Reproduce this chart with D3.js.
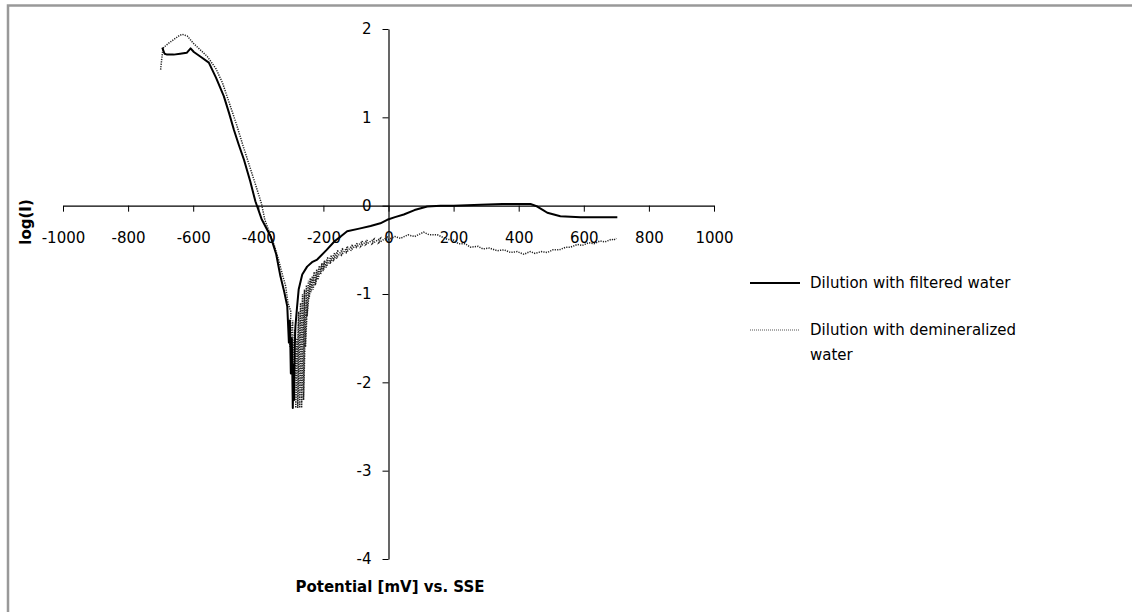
<!DOCTYPE html>
<html>
<head>
<meta charset="utf-8">
<script src="https://cdn.jsdelivr.net/npm/d3@7"></script>
<style>
  body { margin: 0; background: #fff; }
  svg { display: block; }
  text { font-family: "DejaVu Sans", sans-serif; }
</style>
</head>
<body>
<svg width="1132" height="612"></svg>
<script>
// log(I) vs potential, two dilution runs

var svg = d3.select("svg"),
    width = +svg.attr("width"),
    height = +svg.attr("height");

////////////////////////////// DATA //////////////////////////////

var seriesNames = ["Dilution with filtered water", "Dilution with demineralized water"];

var xTicks = [-1000, -800, -600, -400, -200, 0, 200, 400, 600, 800, 1000];
var yTicks = [-4, -3, -2, -1, 0, 1, 2];

// [potential mV, log(I)]
var filtered = [
  [-695, 1.79], [-688, 1.72], [-680, 1.71], [-660, 1.71], [-640, 1.72], [-620, 1.73],
  [-608, 1.78], [-598, 1.74], [-575, 1.68], [-552, 1.62], [-530, 1.45], [-506, 1.24],
  [-490, 1.05], [-475, 0.86], [-460, 0.69], [-444, 0.52], [-425, 0.28], [-409, 0.05],
  [-390, -0.15], [-362, -0.35], [-345, -0.55], [-332, -0.80], [-320, -0.98], [-311, -1.14],
  [-306, -1.55], [-303, -1.30], [-300, -1.90], [-297, -1.50], [-294, -2.29], [-292, -1.80],
  [-290, -2.20], [-288, -1.60], [-286, -1.37], [-281, -1.15], [-276, -0.95], [-265, -0.78],
  [-250, -0.69], [-235, -0.64], [-219, -0.61], [-190, -0.50], [-165, -0.40], [-147, -0.35],
  [-127, -0.29], [-90, -0.26], [-55, -0.23], [-25, -0.20], [-4, -0.16], [20, -0.13],
  [47, -0.10], [80, -0.05], [119, -0.01], [160, 0.00], [200, 0.00], [283, 0.01],
  [350, 0.02], [400, 0.02], [436, 0.02], [457, -0.01], [475, -0.05], [488, -0.08],
  [528, -0.12], [590, -0.13], [650, -0.13], [703, -0.13]
];

var demineralized = [
  [-700, 1.54], [-697, 1.65], [-693, 1.78], [-688, 1.80], [-675, 1.84], [-660, 1.88],
  [-645, 1.92], [-634, 1.94], [-618, 1.92], [-600, 1.84], [-580, 1.77], [-557, 1.69],
  [-530, 1.55], [-510, 1.39], [-488, 1.15], [-467, 0.92], [-447, 0.68], [-427, 0.45],
  [-407, 0.22], [-390, 0.02], [-380, -0.16], [-362, -0.34], [-350, -0.46], [-338, -0.61],
  [-326, -0.78], [-316, -0.91], [-309, -1.10], [-300, -1.20], [-303, -1.60], [-294, -1.30],
  [-297, -1.90], [-288, -1.40], [-291, -2.10], [-282, -1.50], [-285, -2.29], [-276, -1.20],
  [-279, -2.29], [-270, -1.10], [-273, -2.29], [-264, -1.00], [-267, -2.29], [-258, -0.95],
  [-261, -2.20], [-252, -0.90], [-255, -1.60], [-246, -0.85], [-250, -1.25], [-240, -0.82],
  [-244, -1.05], [-234, -0.80], [-238, -0.98], [-228, -0.75], [-232, -0.95], [-220, -0.72],
  [-225, -0.90], [-212, -0.68], [-217, -0.84], [-204, -0.65], [-209, -0.78], [-196, -0.62],
  [-201, -0.74], [-186, -0.58], [-192, -0.70], [-175, -0.56], [-180, -0.66], [-165, -0.53],
  [-170, -0.63], [-155, -0.50], [-160, -0.60], [-140, -0.48], [-146, -0.57], [-125, -0.46],
  [-131, -0.54], [-110, -0.44], [-116, -0.51], [-95, -0.42], [-100, -0.48], [-80, -0.40],
  [-85, -0.46], [-65, -0.39], [-70, -0.44], [-45, -0.38], [-50, -0.43], [-25, -0.37],
  [-30, -0.42], [-5, -0.36], [-10, -0.40], [20, -0.35], [37, -0.37], [60, -0.33],
  [80, -0.35], [108, -0.30], [125, -0.33], [150, -0.33], [180, -0.38], [200, -0.39],
  [215, -0.43], [235, -0.43], [252, -0.47], [275, -0.46], [290, -0.49], [310, -0.48],
  [334, -0.51], [355, -0.50], [375, -0.53], [395, -0.52], [416, -0.55], [435, -0.52],
  [450, -0.54], [470, -0.52], [488, -0.53], [505, -0.50], [525, -0.50], [545, -0.47],
  [559, -0.47], [580, -0.44], [595, -0.45], [615, -0.42], [631, -0.43], [650, -0.40],
  [665, -0.41], [685, -0.38], [692, -0.39], [700, -0.37]
];

////////////////////////////// SCALES //////////////////////////////

var x = d3.scaleLinear().domain([-1000, 1000]).range([63, 714]);
var y = d3.scaleLinear().domain([-4, 2]).range([559, 29]);

// frame (only top and left edges visible)
svg.append("path")
    .attr("d", "M8," + height + "V5.5H" + width)
    .attr("fill", "none")
    .attr("stroke", "#999")
    .attr("stroke-width", 2.5);

////////////////////////////// AXES //////////////////////////////

var fmt = function(d) { return String(d); };   // plain hyphen minus like the original

var xAxis = svg.append("g")
    .attr("transform", "translate(0," + y(0) + ")")
    .call(d3.axisBottom(x).tickValues(xTicks).tickSize(6).tickSizeOuter(0).tickFormat(fmt));
xAxis.select(".domain").attr("stroke", "#000").attr("stroke-width", 1.2);
xAxis.selectAll(".tick line").attr("stroke", "#000");
xAxis.selectAll(".tick text")
    .attr("y", 27)
    .attr("font-size", 15)
    .attr("fill", "#000")
    .attr("font-family", "DejaVu Sans");

var yAxis = svg.append("g")
    .attr("transform", "translate(" + x(0) + ",0)")
    .call(d3.axisLeft(y).tickValues(yTicks).tickSize(6).tickSizeOuter(0).tickFormat(fmt));
yAxis.select(".domain").attr("stroke", "#000").attr("stroke-width", 1.2);
yAxis.selectAll(".tick line").attr("stroke", "#000");
yAxis.selectAll(".tick text")
    .attr("x", -17)
    .attr("font-size", 15)
    .attr("fill", "#000")
    .attr("font-family", "DejaVu Sans");

// axis titles
svg.append("text")
    .attr("x", 390)
    .attr("y", 592)
    .attr("text-anchor", "middle")
    .attr("font-size", 15)
    .attr("font-weight", "bold")
    .text("Potential [mV] vs. SSE");

svg.append("text")
    .attr("transform", "translate(31,222) rotate(-90)")
    .attr("text-anchor", "middle")
    .attr("font-size", 15)
    .attr("font-weight", "bold")
    .text("log(I)");

////////////////////////////// LINES //////////////////////////////

var line = d3.line()
    .x(function(d) { return x(d[0]); })
    .y(function(d) { return y(d[1]); });

svg.append("path")
    .datum(demineralized)
    .attr("fill", "none")
    .attr("stroke", "#222")
    .attr("stroke-width", 1.5)
    .attr("stroke-dasharray", "1.2,1.2")
    .attr("d", line);

svg.append("path")
    .datum(filtered)
    .attr("fill", "none")
    .attr("stroke", "#000")
    .attr("stroke-width", 2)
    .attr("stroke-linejoin", "round")
    .attr("d", line);

////////////////////////////// LEGEND //////////////////////////////

var legend = svg.append("g").attr("transform", "translate(750,283)");

legend.append("line")
    .attr("x1", 0).attr("x2", 50).attr("y1", 0).attr("y2", 0)
    .attr("stroke", "#000").attr("stroke-width", 2);
legend.append("text")
    .attr("x", 60).attr("y", 5)
    .attr("font-size", 15)
    .text(seriesNames[0]);

legend.append("line")
    .attr("x1", 0).attr("x2", 50).attr("y1", 47).attr("y2", 47)
    .attr("stroke", "#555").attr("stroke-width", 1.2)
    .attr("stroke-dasharray", "1,1");
var t2 = legend.append("text")
    .attr("x", 60).attr("y", 52)
    .attr("font-size", 15);
t2.append("tspan").attr("x", 60).text("Dilution with demineralized");
t2.append("tspan").attr("x", 60).attr("dy", 25).text("water");
</script>
</body>
</html>
